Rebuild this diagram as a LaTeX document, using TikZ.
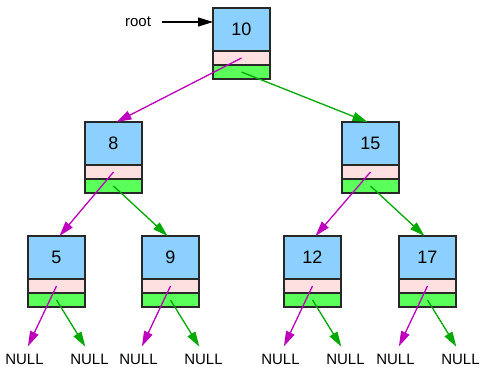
\documentclass[tikz,border=0pt]{standalone}
\usepackage{fontspec}
\setmainfont{Liberation Sans}
\usetikzlibrary{arrows.meta}

\definecolor{valblue}{RGB}{140,208,255}
\definecolor{leftpink}{RGB}{255,224,224}
\definecolor{rightgreen}{RGB}{90,255,90}
\definecolor{leftptr}{RGB}{190,0,190}
\definecolor{rightptr}{RGB}{0,170,0}
\definecolor{boxline}{RGB}{40,40,40}

\tikzset{
  cell/.style={draw=boxline, line width=1.5pt, minimum width=57pt, inner sep=0pt, outer sep=0pt},
  valbox/.style={cell, fill=valblue, minimum height=43pt, font=\fontsize{18}{20}\selectfont},
  lbox/.style={cell, fill=leftpink, minimum height=14pt, anchor=north},
  rbox/.style={cell, fill=rightgreen, minimum height=14pt, anchor=north},
  lbl/.style={inner sep=0pt, font=\fontsize{15}{17}\selectfont},
  nulllbl/.style={lbl, anchor=base},
  tip/.style={-{Triangle[length=15pt,width=9pt]}, line width=1.3pt},
  lptr/.style={tip, draw=leftptr, fill=leftptr},
  rptr/.style={tip, draw=rightptr, fill=rightptr},
}

% one tree element: value cell with left (pink) and right (green) pointer cells below
\newcommand{\treenode}[3]{%
  \node[valbox, anchor=north west] (v#1) at (#2,#3) {#1};
  \node[lbox] (l#1) at (v#1.south) {};
  \node[rbox] (r#1) at (l#1.south) {};
}

\begin{document}
\begin{tikzpicture}[x=1pt, y=-1pt]
  \useasboundingbox (0,0) rectangle (483,367);

  \treenode{10}{213}{8}
  \treenode{8}{85}{122}
  \treenode{15}{342}{122}
  \treenode{5}{28}{236}
  \treenode{9}{142}{236}
  \treenode{12}{284}{236}
  \treenode{17}{399}{236}

  % root pointer
  \node[lbl] (rootlbl) at (138,22) {root};
  \draw[tip, fill=black] ([xshift=11pt]rootlbl.east) -- (rootlbl.east -| v10.west);

  % inner links
  \draw[lptr] (l10.center) -- ([xshift=3pt]v8.north);
  \draw[rptr] (r10.center) -- ([xshift=-3pt]v15.north);
  \draw[lptr] (l8.center) -- ([xshift=3pt]v5.north);
  \draw[rptr] (r8.center) -- ([xshift=-3pt]v9.north);
  \draw[lptr] (l15.center) -- ([xshift=3pt]v12.north);
  \draw[rptr] (r15.center) -- ([xshift=-3pt]v17.north);

  % NULL leaves
  \foreach \n/\cx in {5/56.5, 9/170.5, 12/312.5, 17/427.5}{
    \node[nulllbl] (nl\n) at (\cx-32,364) {NULL};
    \node[nulllbl] (nr\n) at (\cx+33,364) {NULL};
    \draw[lptr, shorten >=8pt] (l\n.center) -- (nl\n.north);
    \draw[rptr, shorten >=8pt] (r\n.center) -- (nr\n.north);
  }
\end{tikzpicture}
\end{document}
